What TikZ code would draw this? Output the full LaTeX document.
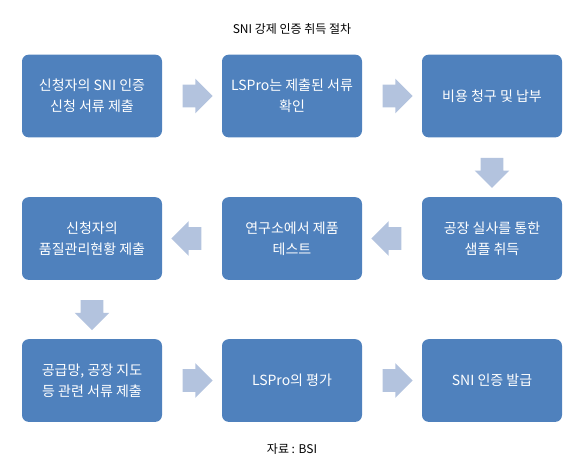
\documentclass[tikz,border=0pt]{standalone}
\usepackage{fontspec}
\newfontfamily\kr{Noto Sans CJK KR}
\usetikzlibrary{shapes.arrows,calc}
\definecolor{boxblue}{HTML}{4F81BD}
\definecolor{arrowblue}{HTML}{B3C3DE}
\begin{document}
\begin{tikzpicture}[x=0.75pt,y=-0.75pt,
  stepbox/.style={draw=none, fill=boxblue, rounded corners=5pt, minimum width=105pt,
    minimum height=62pt, text=white, align=center,
    font=\kr\fontsize{10.5}{15.5}\selectfont, inner sep=2pt},
  blockarrow/.style={single arrow, fill=arrowblue, draw=none, minimum height=22.5pt,
    minimum width=25.5pt, single arrow head extend=4.5pt, inner xsep=0pt, inner ysep=8.25pt},
  caption/.style={font=\kr\fontsize{9}{11}\selectfont, text=black, inner sep=1pt}]
\useasboundingbox (0,0) rectangle (585,465);
\node[caption] (title) at (292,29) {SNI 강제 인증 취득 절차};
\node[stepbox] (b1) at (92,96) {신청자의 SNI 인증\\신청 서류 제출};
\node[stepbox] (b2) at (292,96) {LSPro는 제출된 서류\\확인};
\node[stepbox] (b3) at (492,96) {비용 청구 및 납부};
\node[stepbox] (b4) at (92,238.5) {신청자의\\품질관리현황 제출};
\node[stepbox] (b5) at (292,238.5) {연구소에서 제품\\테스트};
\node[stepbox] (b6) at (492,238.5) {공장 실사를 통한\\샘플 취득};
\node[stepbox] (b7) at (92,380.5) {공급망, 공장 지도\\등 관련 서류 제출};
\node[stepbox] (b8) at (292,380.5) {LSPro의 평가};
\node[stepbox] (b9) at (492,380.5) {SNI 인증 발급};
\node[caption] (src) at (292,449) {자료 : BSI};
\node[blockarrow] (a12) at ($(b1.east)!0.5!(b2.west)$) {};
\node[blockarrow] (a23) at ($(b2.east)!0.5!(b3.west)$) {};
\node[blockarrow, rotate=-90] (a36) at ($(b3.south)!0.5!(b6.north)$) {};
\node[blockarrow, rotate=180] (a65) at ($(b6.west)!0.5!(b5.east)$) {};
\node[blockarrow, rotate=180] (a54) at ($(b5.west)!0.5!(b4.east)$) {};
\node[blockarrow, rotate=-90] (a47) at ($(b4.south)!0.5!(b7.north)$) {};
\node[blockarrow] (a78) at ($(b7.east)!0.5!(b8.west)$) {};
\node[blockarrow] (a89) at ($(b8.east)!0.5!(b9.west)$) {};
\end{tikzpicture}
\end{document}
